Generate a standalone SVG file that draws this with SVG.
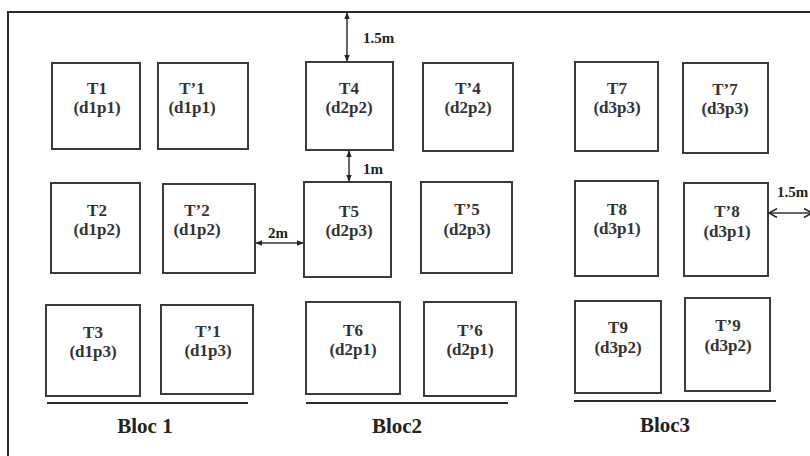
<svg xmlns="http://www.w3.org/2000/svg" width="810" height="456" viewBox="0 0 810 456">
<style>
.box{fill:#fff;stroke:#3a3a3a;stroke-width:2}
.t{font-family:"Liberation Serif","Times New Roman",serif;font-weight:bold;font-size:17px;fill:#333;text-anchor:middle}
.lbl{font-family:"Liberation Serif","Times New Roman",serif;font-weight:bold;font-size:15px;fill:#222}
.bloc{font-family:"Liberation Serif","Times New Roman",serif;font-weight:bold;font-size:21px;fill:#222;text-anchor:middle}
.ln{stroke:#333;stroke-width:1.5;fill:none}
.frame{stroke:#2a2a2a;stroke-width:2;fill:none}
</style>
<defs>
<marker id="ah" viewBox="0 0 10 10" refX="9" refY="5" markerWidth="7" markerHeight="7" orient="auto-start-reverse" markerUnits="userSpaceOnUse">
<path d="M0,1 L10,5 L0,9 Z" fill="#222"/>
</marker>
<marker id="oh" viewBox="0 0 10 10" refX="9" refY="5" markerWidth="10" markerHeight="10" orient="auto-start-reverse" markerUnits="userSpaceOnUse">
<path d="M1,0.5 L9,5 L1,9.5" fill="none" stroke="#222" stroke-width="1.5"/>
</marker>
</defs>
<rect width="810" height="456" fill="#fff"/>
<path class="frame" d="M8,456 V12 H810"/>

<g id="T1"><rect class="box" x="52" y="63" width="88" height="86"/><text class="t" x="97" y="94">T1</text><text class="t" x="97" y="113">(d1p1)</text></g>
<g id="Tp1"><rect class="box" x="158" y="63" width="90" height="86"/><text class="t" x="192" y="94">T’1</text><text class="t" x="192" y="113">(d1p1)</text></g>
<g id="T4"><rect class="box" x="306" y="62" width="87" height="88"/><text class="t" x="349" y="94">T4</text><text class="t" x="349" y="113">(d2p2)</text></g>
<g id="Tp4"><rect class="box" x="423" y="63" width="90" height="88"/><text class="t" x="468" y="94">T’4</text><text class="t" x="468" y="113">(d2p2)</text></g>
<g id="T7"><rect class="box" x="575" y="62" width="83" height="89"/><text class="t" x="617" y="94">T7</text><text class="t" x="617" y="113">(d3p3)</text></g>
<g id="Tp7"><rect class="box" x="683" y="63" width="85" height="90"/><text class="t" x="725" y="95">T’7</text><text class="t" x="725" y="114">(d3p3)</text></g>

<g id="T2"><rect class="box" x="51" y="183" width="89" height="90"/><text class="t" x="97" y="216">T2</text><text class="t" x="97" y="235">(d1p2)</text></g>
<g id="Tp2"><rect class="box" x="163" y="184" width="92" height="89"/><text class="t" x="197" y="216">T’2</text><text class="t" x="197" y="235">(d1p2)</text></g>
<g id="T5"><rect class="box" x="304" y="182" width="87" height="95"/><text class="t" x="349" y="217">T5</text><text class="t" x="349" y="236">(d2p3)</text></g>
<g id="Tp5"><rect class="box" x="421" y="182" width="91" height="91"/><text class="t" x="467" y="215">T’5</text><text class="t" x="467" y="235">(d2p3)</text></g>
<g id="T8"><rect class="box" x="575" y="181" width="83" height="95"/><text class="t" x="617" y="215">T8</text><text class="t" x="617" y="234">(d3p1)</text></g>
<g id="Tp8"><rect class="box" x="684" y="183" width="84" height="93"/><text class="t" x="727" y="217">T’8</text><text class="t" x="727" y="237">(d3p1)</text></g>

<g id="T3"><rect class="box" x="46" y="305" width="94" height="91"/><text class="t" x="93" y="338">T3</text><text class="t" x="93" y="357">(d1p3)</text></g>
<g id="Tp1b"><rect class="box" x="161" y="305" width="92" height="89"/><text class="t" x="208" y="337">T’1</text><text class="t" x="208" y="356">(d1p3)</text></g>
<g id="T6"><rect class="box" x="306" y="302" width="94" height="92"/><text class="t" x="353" y="336">T6</text><text class="t" x="353" y="355">(d2p1)</text></g>
<g id="Tp6"><rect class="box" x="424" y="302" width="92" height="94"/><text class="t" x="470" y="336">T’6</text><text class="t" x="470" y="355">(d2p1)</text></g>
<g id="T9"><rect class="box" x="575" y="301" width="86" height="92"/><text class="t" x="618" y="333">T9</text><text class="t" x="618" y="353">(d3p2)</text></g>
<g id="Tp9"><rect class="box" x="685" y="298" width="85" height="93"/><text class="t" x="728" y="331">T’9</text><text class="t" x="728" y="351">(d3p2)</text></g>

<g id="bloc1"><line class="frame" x1="47" y1="403" x2="248" y2="403"/><text class="bloc" x="145" y="433">Bloc 1</text></g>
<g id="bloc2"><line class="frame" x1="306" y1="403" x2="508" y2="403"/><text class="bloc" x="397" y="433">Bloc2</text></g>
<g id="bloc3"><line class="frame" x1="574" y1="401" x2="776" y2="401"/><text class="bloc" x="665" y="432">Bloc3</text></g>

<g id="connectors">
<line class="ln" x1="347" y1="13" x2="347" y2="61" marker-start="url(#ah)" marker-end="url(#ah)"/>
<text class="lbl" x="363" y="43">1.5m</text>
<line class="ln" x1="349" y1="151" x2="349" y2="181" marker-start="url(#ah)" marker-end="url(#ah)"/>
<text class="lbl" x="363" y="174">1m</text>
<line class="ln" x1="256" y1="243" x2="303" y2="243" marker-start="url(#ah)" marker-end="url(#ah)"/>
<text class="lbl" x="268" y="238">2m</text>
<line class="ln" x1="769" y1="213" x2="812" y2="213" marker-start="url(#oh)" marker-end="url(#oh)"/>
<text class="lbl" x="777" y="197">1.5m</text>
</g>
</svg>
